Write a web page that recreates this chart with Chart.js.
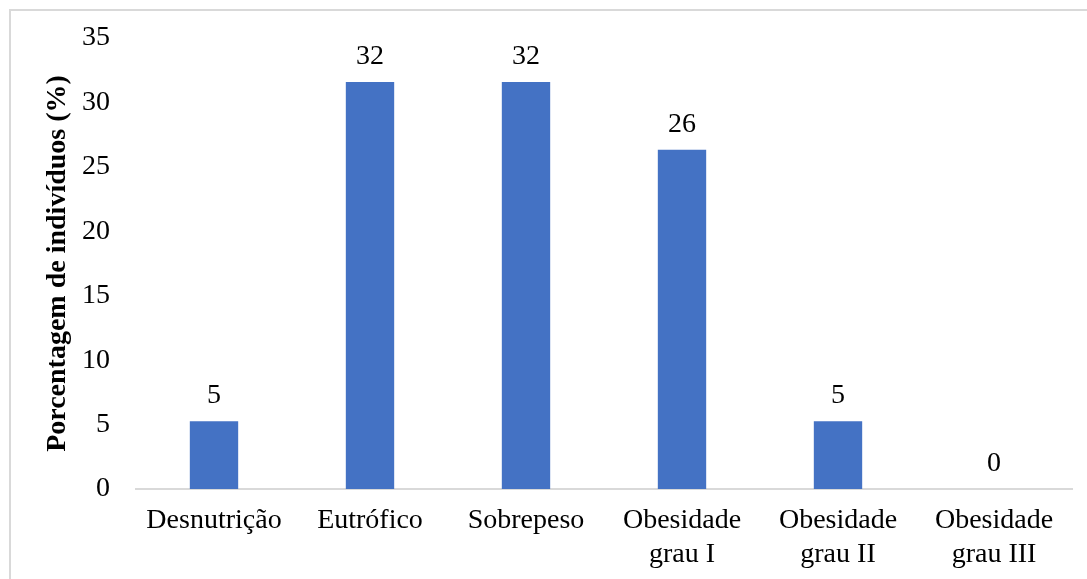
<!DOCTYPE html>
<html>
<head>
<meta charset="utf-8">
<script src="https://cdn.jsdelivr.net/npm/chart.js@4.4.1/dist/chart.umd.min.js"></script>
<style>
  html, body { margin: 0; padding: 0; background: #ffffff; }
  #wrap { position: relative; width: 1087px; height: 579px; overflow: hidden; }
  canvas { display: block; }
</style>
</head>
<body>
<div id="wrap"><canvas id="c" width="1087" height="579"></canvas></div>
<script>
const categories = ["Desnutrição", "Eutrófico", "Sobrepeso", ["Obesidade", "grau I"], ["Obesidade", "grau II"], ["Obesidade", "grau III"]];
const values = [5.26, 31.58, 31.58, 26.32, 5.26, 0];
const dataLabels = ["5", "32", "32", "26", "5", "0"];
const yTicks = [0, 5, 10, 15, 20, 25, 30, 35];
const yTitle = "Porcentagem de indivíduos (%)";

const FONT = "'Liberation Serif', 'Times New Roman', serif";

const frame = {
  id: 'frame',
  beforeDraw(chart) {
    const ctx = chart.ctx;
    ctx.save();
    ctx.fillStyle = '#ffffff';
    ctx.fillRect(0, 0, chart.width, chart.height);
    ctx.strokeStyle = '#d9d9d9';
    ctx.lineWidth = 2;
    ctx.beginPath();
    ctx.moveTo(10, chart.height + 5);
    ctx.lineTo(10, 10);
    ctx.lineTo(chart.width + 5, 10);
    ctx.stroke();
    ctx.restore();
  }
};

const labelsPlugin = {
  id: 'valueLabels',
  afterDatasetsDraw(chart) {
    const ctx = chart.ctx;
    const meta = chart.getDatasetMeta(0);
    ctx.save();
    ctx.font = "28px " + FONT;
    ctx.fillStyle = '#000000';
    ctx.textAlign = 'center';
    ctx.textBaseline = 'alphabetic';
    meta.data.forEach((bar, i) => {
      ctx.fillText(dataLabels[i], bar.x, bar.y - 18);
    });
    ctx.restore();
  }
};

new Chart(document.getElementById('c'), {
  type: 'bar',
  data: {
    labels: categories,
    datasets: [{
      data: values,
      backgroundColor: '#4472C4',
      borderWidth: 0,
      barPercentage: 0.31,
      categoryPercentage: 1.0
    }]
  },
  options: {
    responsive: false,
    animation: false,
    devicePixelRatio: 1,
    layout: { padding: { left: 0, right: 15, top: 38, bottom: 0 } },
    plugins: { legend: { display: false }, tooltip: { enabled: false } },
    scales: {
      x: {
        grid: { display: false, drawTicks: false },
        border: { display: true, color: '#d9d9d9', width: 2 },
        ticks: { color: '#000000', font: { family: FONT, size: 28 }, padding: 15, maxRotation: 0, autoSkip: false },
        afterFit(scale) { scale.height = 90; scale.paddingLeft = 0; scale.paddingRight = 0; }
      },
      y: {
        min: 0, max: 35,
        afterBuildTicks(scale) { scale.ticks = yTicks.map(v => ({ value: v })); },
        grid: { display: false, drawTicks: false },
        border: { display: false },
        ticks: { color: '#000000', font: { family: FONT, size: 28 }, padding: 26 },
        title: { display: true, text: yTitle, color: '#000000', font: { family: FONT, size: 28, weight: 'bold' }, padding: { top: 41, bottom: 0 } },
        afterFit(scale) { scale.width = 136; scale.paddingTop = 0; scale.paddingBottom = 0; }
      }
    }
  },
  plugins: [frame, labelsPlugin]
});
</script>
</body>
</html>
